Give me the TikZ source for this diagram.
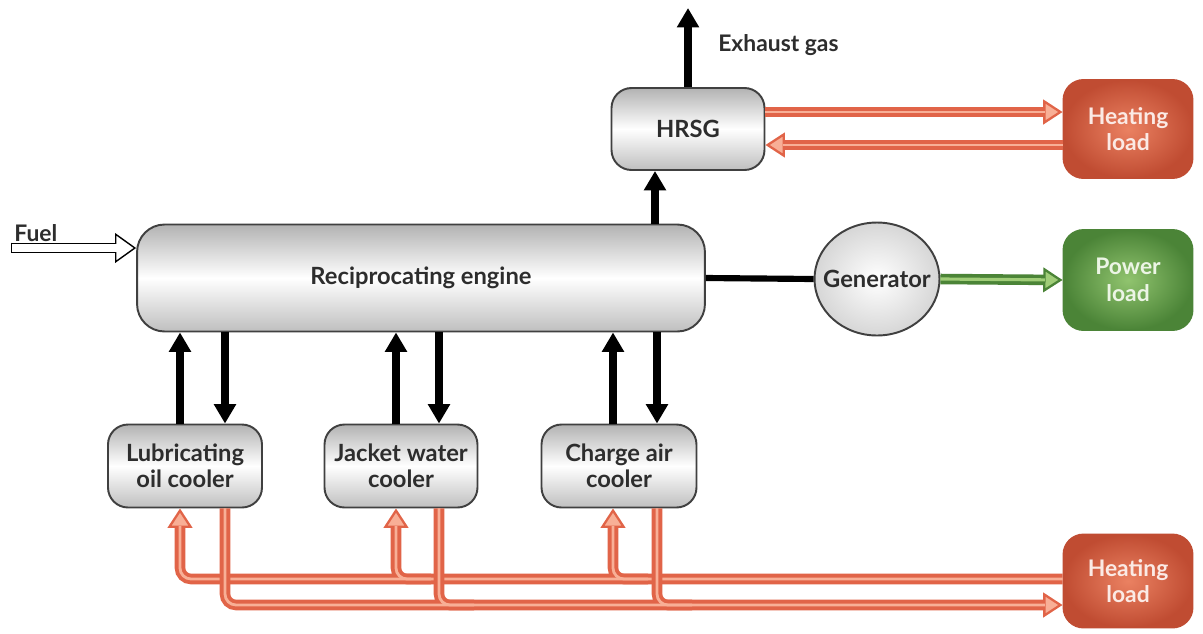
\documentclass[tikz,border=0pt]{standalone}
\usepackage{fontspec}
\setmainfont{Lato}
\usetikzlibrary{arrows.meta,shapes.geometric,calc}
\definecolor{pipered}{RGB}{225,100,72}
\definecolor{pipelight}{RGB}{248,175,150}
\definecolor{heat}{RGB}{232,115,80}
\definecolor{heatdark}{RGB}{192,76,50}
\definecolor{pgreen}{RGB}{125,185,85}
\definecolor{pgreendark}{RGB}{75,132,55}
\definecolor{glight}{RGB}{160,205,120}
\definecolor{txt}{RGB}{45,45,45}
\begin{document}
\begin{tikzpicture}[x=0.02cm,y=-0.02cm,
  box/.style={draw=black!75, line width=1.1pt, rounded corners=0.4cm,
    top color=black!30, bottom color=black!25, middle color=white,
    align=center, font=\bfseries\fontsize{13.5}{15}\selectfont, text=txt, inner sep=0pt},
  heatbox/.style={draw=heatdark, line width=1.1pt, rounded corners=0.4cm,
    inner color=heat!90!white, outer color=heatdark,
    align=center, font=\bfseries\fontsize{13}{15}\selectfont, text=white!85!heat,
    minimum width=2.58cm, inner sep=0pt},
  powbox/.style={draw=pgreendark, line width=1.1pt, rounded corners=0.4cm,
    inner color=pgreen!85!white, outer color=pgreendark,
    align=center, font=\bfseries\fontsize{13}{15}\selectfont, text=white!85!pgreen,
    minimum width=2.58cm, minimum height=2cm, inner sep=0pt},
  blk/.style={line width=4pt, -{Triangle[length=11pt,width=12pt]}},
  pipe/.style={draw=pipered, line width=6pt, rounded corners=0.22cm},
  pipein/.style={draw=pipelight, line width=1.6pt, rounded corners=0.22cm},
  pipetip/.style={-{Triangle[length=11pt,width=14pt,line width=1.3pt,fill=pipelight]}},
  gpipe/.style={draw=pgreendark, line width=6pt},
  gpipein/.style={draw=glight, line width=1.8pt},
  gtip/.style={-{Triangle[length=11pt,width=14pt,line width=1.3pt,fill=glight]}},
  lbl/.style={font=\bfseries\fontsize{13}{15}\selectfont, text=txt, inner sep=0pt}
]
\useasboundingbox (0,0) rectangle (1203,633);
\fill[white] (0,0) rectangle (1203,633);

% nodes
\node[box, minimum width=3.06cm, minimum height=1.64cm] (hrsg) at (688,129) {HRSG};
\node[heatbox, minimum height=1.96cm] (hl1) at (1128,129) {Heating\\load};
\node[box, minimum width=11.36cm, minimum height=2.14cm, rounded corners=0.55cm] (eng) at (421,278) {Reciprocating engine};
\node[ellipse, draw=black!75, line width=1.1pt, inner color=white, outer color=black!16,
  minimum width=2.5cm, minimum height=2.26cm, font=\bfseries\fontsize{13.5}{15}\selectfont, text=txt,
  inner xsep=-10pt, inner ysep=0pt] (gen) at (877,279) {Generator};
\node[powbox] (pl) at (1128,280) {Power\\load};
\node[box, minimum width=3.08cm, minimum height=1.66cm] (lub) at (185,466) {Lubricating\\oil cooler};
\node[box, minimum width=3.06cm, minimum height=1.66cm] (jw) at (401,466) {Jacket water\\cooler};
\node[box, minimum width=3.1cm, minimum height=1.66cm] (ca) at (619,466) {Charge air\\cooler};
\node[heatbox, minimum height=1.86cm] (hl2) at (1128,581) {Heating\\load};

\node[lbl, anchor=west] (exlbl) at (718,45) {Exhaust gas};
\node[lbl, anchor=west] (fuellbl) at (14,233) {Fuel};

% coordinates
\coordinate (exh) at (688,8);
\coordinate (xe) at (655,0);
\coordinate (fuelst) at (12,248);
\coordinate (l1) at (180,0); \coordinate (l2) at (225,0);
\coordinate (j1) at (396,0); \coordinate (j2) at (439,0);
\coordinate (c1) at (613,0); \coordinate (c2) at (657,0);
\coordinate (ry) at (0,579); \coordinate (sy) at (0,605);

% black connectors
\draw[blk] (hrsg.north) -- (exh);
\draw[blk] (xe |- eng.north) -- (xe |- hrsg.south);
\draw[line width=3.5pt] (eng.east) -- (gen.west);
\foreach \u/\d/\n in {l1/l2/lub, j1/j2/jw, c1/c2/ca}{
  \draw[blk] (\u |- \n.north) -- (\u |- eng.south);
  \draw[blk] (\d |- eng.south) -- (\d |- \n.north);
}

% fuel hollow arrow
\draw[line width=6pt, -{Triangle[length=12pt,width=17pt,line width=0.8pt,fill=white]}] (fuelst) -- (fuelst -| eng.west);
\draw[white, line width=4.2pt, shorten >=11pt] (fuelst) -- (fuelst -| eng.west);
\draw[black, line width=0.8pt] ([xshift=-0.3pt]fuelst) ++(0,-5.3) -- ++(0,10.6);

% HRSG <-> heating load
\draw[pipe, pipetip] ([yshift=0.34cm]hrsg.east) -- ([yshift=0.34cm]hl1.west);
\draw[pipein, shorten >=10pt] ([yshift=0.34cm]hrsg.east) -- ([yshift=0.34cm]hl1.west);
\draw[pipe, pipetip] ([yshift=-0.32cm]hl1.west) -- ([yshift=-0.32cm]hrsg.east);
\draw[pipein, shorten >=10pt] ([yshift=-0.32cm]hl1.west) -- ([yshift=-0.32cm]hrsg.east);

% generator -> power load
\draw[gpipe, gtip] (gen.east) -- (pl.west);
\draw[gpipein, shorten >=10pt] (gen.east) -- (pl.west);

% return line: heating load -> coolers
\draw[pipe, pipetip] (hl2.west |- ry) -- (l1 |- ry) -- (l1 |- lub.south);
\draw[pipe, pipetip] ($(j1 |- ry)+(35,0)$) -- (j1 |- ry) -- (j1 |- jw.south);
\draw[pipe, pipetip] ($(c1 |- ry)+(35,0)$) -- (c1 |- ry) -- (c1 |- ca.south);
\draw[pipein, shorten >=10pt] (hl2.west |- ry) -- (l1 |- ry) -- (l1 |- lub.south);
\draw[pipein, shorten >=10pt] ($(j1 |- ry)+(35,0)$) -- (j1 |- ry) -- (j1 |- jw.south);
\draw[pipein, shorten >=10pt] ($(c1 |- ry)+(35,0)$) -- (c1 |- ry) -- (c1 |- ca.south);

% supply line: coolers -> heating load
\draw[pipe, pipetip] (l2 |- lub.south) -- (l2 |- sy) -- (hl2.west |- sy);
\draw[pipe] (j2 |- jw.south) -- (j2 |- sy) -- ($(j2 |- sy)+(35,0)$);
\draw[pipe] (c2 |- ca.south) -- (c2 |- sy) -- ($(c2 |- sy)+(35,0)$);
\draw[pipein, shorten >=10pt] (l2 |- lub.south) -- (l2 |- sy) -- (hl2.west |- sy);
\draw[pipein] (j2 |- jw.south) -- (j2 |- sy) -- ($(j2 |- sy)+(35,0)$);
\draw[pipein] (c2 |- ca.south) -- (c2 |- sy) -- ($(c2 |- sy)+(35,0)$);
\end{tikzpicture}
\end{document}
